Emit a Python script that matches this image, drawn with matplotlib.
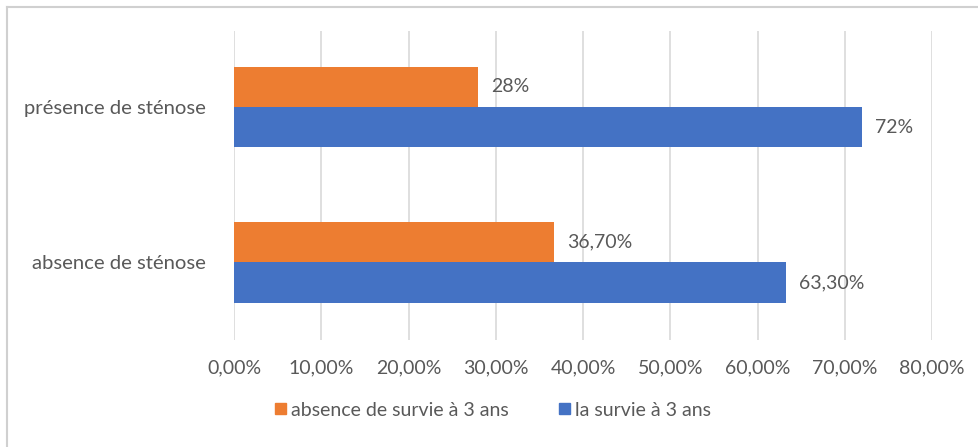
import matplotlib.pyplot as plt
import numpy as np
from matplotlib.lines import Line2D
from matplotlib.patches import Patch

categories = ["absence de sténose", "présence de sténose"]
series_names = ["absence de survie à 3 ans", "la survie à 3 ans"]
no_survival = [36.70, 28.0]
survival = [63.30, 72.0]
no_survival_labels = ["36,70%", "28%"]
survival_labels = ["63,30%", "72%"]
xticks = [0, 10, 20, 30, 40, 50, 60, 70, 80]
xtick_labels = ["0,00%", "10,00%", "20,00%", "30,00%", "40,00%",
                "50,00%", "60,00%", "70,00%", "80,00%"]

ORANGE = "#ED7D31"
BLUE = "#4472C4"
TEXT = "#595959"
GRID = "#D9D9D9"
FS = 14

plt.rcParams["font.family"] = ["Lato", "DejaVu Sans"]

fig = plt.figure(figsize=(9.79, 4.47), dpi=100)
ax = fig.add_axes([234 / 979, 1 - 340 / 447, (932 - 234) / 979, (340 - 31) / 447])

y = np.arange(len(categories))
h = 0.26
ax.barh(y + h / 2, no_survival, height=h, color=ORANGE, zorder=3)
ax.barh(y - h / 2, survival, height=h, color=BLUE, zorder=3)

for yi, v, lab in zip(y + h / 2, no_survival, no_survival_labels):
    ax.annotate(lab, (v, yi), xytext=(9.5, 0), textcoords="offset points",
                va="center", ha="left", fontsize=FS, color=TEXT)
for yi, v, lab in zip(y - h / 2, survival, survival_labels):
    ax.annotate(lab, (v, yi), xytext=(9.5, 0), textcoords="offset points",
                va="center", ha="left", fontsize=FS, color=TEXT)

ax.set_xlim(0, 80)
ax.set_ylim(-0.5, 1.49)
ax.set_xticks(xticks)
ax.set_xticklabels(xtick_labels)
ax.set_yticks(y)
ax.set_yticklabels(categories)
ax.tick_params(axis="both", length=0, colors=TEXT)
ax.tick_params(axis="x", pad=14, labelsize=FS)
ax.tick_params(axis="y", pad=20, labelsize=14.6)
ax.xaxis.grid(True, color=GRID, linewidth=1.2, zorder=0)
for s in ax.spines.values():
    s.set_visible(False)

# outer chart frame (top and left edges)
fig.add_artist(Line2D([7 / 979, 1], [1 - 7 / 447, 1 - 7 / 447],
                      transform=fig.transFigure, color="#D0D0D0", lw=1.5))
fig.add_artist(Line2D([7 / 979, 7 / 979], [0, 1 - 7 / 447],
                      transform=fig.transFigure, color="#D0D0D0", lw=1.5))

handles = [Patch(color=ORANGE), Patch(color=BLUE)]
fig.legend(handles, series_names, loc="center", bbox_to_anchor=(493 / 979, 1 - 410 / 447),
           ncol=2, frameon=False, fontsize=FS, labelcolor=TEXT,
           handlelength=0.55, handleheight=0.55, handletextpad=0.25, columnspacing=2.6)

fig.savefig("out.png", dpi=100, facecolor="white")
